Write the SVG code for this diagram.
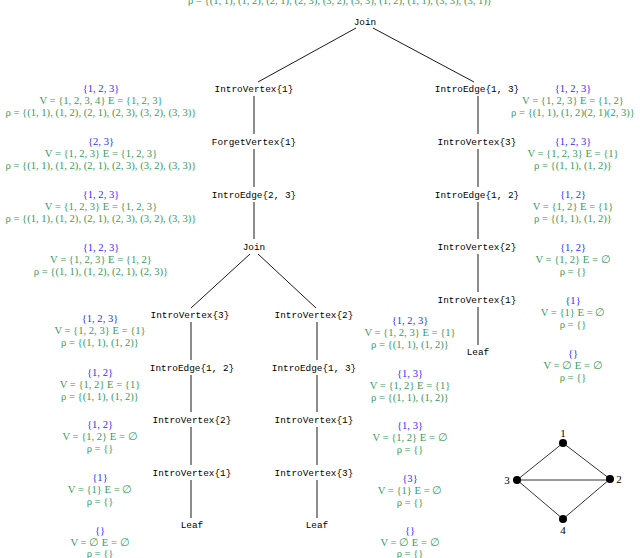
<svg xmlns="http://www.w3.org/2000/svg" width="640" height="558" viewBox="0 0 640 558">
<style>
.n{font-size:9.4px;fill:#000;text-anchor:middle}
.b{font-size:10.6px;fill:#3030ff;text-anchor:middle}
.g{font-size:10.6px;fill:#3a9a62;text-anchor:middle}
.k{font-size:11px;fill:#000;text-anchor:middle}
.e{stroke:#000;stroke-width:0.9;fill:none}
.ge{stroke:#000;stroke-width:0.8;fill:none}
</style>
<rect width="640" height="558" fill="#fff"/>
<g font-family="Liberation Serif, DejaVu Serif, serif">
<text class="g" x="340" y="4">ρ = {(1, 1), (1, 2), (2, 1), (2, 3), (3, 2), (3, 3), (1, 2), (1, 1), (3, 3), (3, 1)}</text>
</g>
<g id="connectors">
<path class="e" d="M356 28L258 82M373 28L474 82M254 96V134M254 149V187M254 202V239M250 254L191 308M258 254L316 308M191 322V360M191 375V412M191 427V465M191 480V518M317 322V360M317 375V412M317 427V465M317 480V518M478 96V134M478 149V187M478 202V239M478 254V292M478 307V345"/>
</g>
<g font-family="Liberation Mono, DejaVu Sans Mono, monospace">
<g id="n-join1"><text class="n" x="365" y="25">Join</text></g>
<g id="n-iv1"><text class="n" x="254" y="92">IntroVertex{1}</text></g>
<g id="n-fv1"><text class="n" x="254" y="145">ForgetVertex{1}</text></g>
<g id="n-ie23"><text class="n" x="254" y="198">IntroEdge{2, 3}</text></g>
<g id="n-join2"><text class="n" x="254" y="250">Join</text></g>
<g id="n-l-iv3"><text class="n" x="190" y="318">IntroVertex{3}</text></g>
<g id="n-l-ie12"><text class="n" x="192" y="371">IntroEdge{1, 2}</text></g>
<g id="n-l-iv2"><text class="n" x="192" y="423">IntroVertex{2}</text></g>
<g id="n-l-iv1"><text class="n" x="192" y="476">IntroVertex{1}</text></g>
<g id="n-l-leaf"><text class="n" x="192" y="528">Leaf</text></g>
<g id="n-m-iv2"><text class="n" x="314" y="318">IntroVertex{2}</text></g>
<g id="n-m-ie13"><text class="n" x="314" y="371">IntroEdge{1, 3}</text></g>
<g id="n-m-iv1"><text class="n" x="314" y="423">IntroVertex{1}</text></g>
<g id="n-m-iv3"><text class="n" x="314" y="476">IntroVertex{3}</text></g>
<g id="n-m-leaf"><text class="n" x="317" y="528">Leaf</text></g>
<g id="n-r-ie13"><text class="n" x="477" y="92">IntroEdge{1, 3}</text></g>
<g id="n-r-iv3"><text class="n" x="477" y="145">IntroVertex{3}</text></g>
<g id="n-r-ie12"><text class="n" x="477" y="198">IntroEdge{1, 2}</text></g>
<g id="n-r-iv2"><text class="n" x="477" y="250">IntroVertex{2}</text></g>
<g id="n-r-iv1"><text class="n" x="477" y="303">IntroVertex{1}</text></g>
<g id="n-r-leaf"><text class="n" x="478" y="355">Leaf</text></g>
</g>
<g id="annotations" font-family="Liberation Serif, DejaVu Serif, serif">
<text class="b" x="101" y="92">{1, 2, 3}</text>
<text class="g" x="101" y="104">V = {1, 2, 3, 4} E = {1, 2, 3}</text>
<text class="g" x="101" y="116">ρ = {(1, 1), (1, 2), (2, 1), (2, 3), (3, 2), (3, 3)}</text>
<text class="b" x="101" y="145">{2, 3}</text>
<text class="g" x="101" y="157">V = {1, 2, 3} E = {1, 2, 3}</text>
<text class="g" x="101" y="169">ρ = {(1, 1), (1, 2), (2, 1), (2, 3), (3, 2), (3, 3)}</text>
<text class="b" x="101" y="198">{1, 2, 3}</text>
<text class="g" x="101" y="210">V = {1, 2, 3} E = {1, 2, 3}</text>
<text class="g" x="101" y="222">ρ = {(1, 1), (1, 2), (2, 1), (2, 3), (3, 2), (3, 3)}</text>
<text class="b" x="101" y="251">{1, 2, 3}</text>
<text class="g" x="101" y="263">V = {1, 2, 3} E = {1, 2}</text>
<text class="g" x="101" y="275">ρ = {(1, 1), (1, 2), (2, 1), (2, 3)}</text>

<text class="b" x="100" y="322">{1, 2, 3}</text>
<text class="g" x="100" y="334">V = {1, 2, 3} E = {1}</text>
<text class="g" x="100" y="346">ρ = {(1, 1), (1, 2)}</text>
<text class="b" x="100" y="376">{1, 2}</text>
<text class="g" x="100" y="388">V = {1, 2} E = {1}</text>
<text class="g" x="100" y="400">ρ = {(1, 1), (1, 2)}</text>
<text class="b" x="100" y="428">{1, 2}</text>
<text class="g" x="100" y="440">V = {1, 2} E = ∅</text>
<text class="g" x="100" y="452">ρ = {}</text>
<text class="b" x="100" y="481">{1}</text>
<text class="g" x="100" y="493">V = {1} E = ∅</text>
<text class="g" x="100" y="505">ρ = {}</text>
<text class="b" x="100" y="534">{}</text>
<text class="g" x="100" y="546">V = ∅ E = ∅</text>
<text class="g" x="100" y="557">ρ = {}</text>

<text class="b" x="410" y="324">{1, 2, 3}</text>
<text class="g" x="410" y="336">V = {1, 2, 3} E = {1}</text>
<text class="g" x="410" y="348">ρ = {(1, 1), (1, 2)}</text>
<text class="b" x="410" y="377">{1, 3}</text>
<text class="g" x="410" y="389">V = {1, 2} E = {1}</text>
<text class="g" x="410" y="401">ρ = {(1, 1), (1, 2)}</text>
<text class="b" x="410" y="429">{1, 3}</text>
<text class="g" x="410" y="441">V = {1, 2} E = ∅</text>
<text class="g" x="410" y="453">ρ = {}</text>
<text class="b" x="410" y="482">{3}</text>
<text class="g" x="410" y="494">V = {1} E = ∅</text>
<text class="g" x="410" y="506">ρ = {}</text>
<text class="b" x="410" y="534">{}</text>
<text class="g" x="410" y="546">V = ∅ E = ∅</text>
<text class="g" x="410" y="557">ρ = {}</text>

<text class="b" x="573" y="92">{1, 2, 3}</text>
<text class="g" x="573" y="104">V = {1, 2, 3} E = {1, 2}</text>
<text class="g" x="573" y="116">ρ = {(1, 1), (1, 2)(2, 1)(2, 3)}</text>
<text class="b" x="573" y="145">{1, 2, 3}</text>
<text class="g" x="573" y="157">V = {1, 2, 3} E = {1}</text>
<text class="g" x="573" y="169">ρ = {(1, 1), (1, 2)}</text>
<text class="b" x="573" y="198">{1, 2}</text>
<text class="g" x="573" y="210">V = {1, 2} E = {1}</text>
<text class="g" x="573" y="222">ρ = {(1, 1), (1, 2)}</text>
<text class="b" x="573" y="251">{1, 2}</text>
<text class="g" x="573" y="263">V = {1, 2} E = ∅</text>
<text class="g" x="573" y="275">ρ = {}</text>
<text class="b" x="573" y="304">{1}</text>
<text class="g" x="573" y="316">V = {1} E = ∅</text>
<text class="g" x="573" y="328">ρ = {}</text>
<text class="b" x="573" y="357">{}</text>
<text class="g" x="573" y="369">V = ∅ E = ∅</text>
<text class="g" x="573" y="381">ρ = {}</text>
</g>
<g id="graph" font-family="Liberation Serif, DejaVu Serif, serif">
<path class="ge" d="M563 443L517 480L563 519L610 479ZM517 480H610"/>
<circle cx="563" cy="443" r="4"/>
<circle cx="517" cy="480" r="4"/>
<circle cx="610" cy="479" r="4"/>
<circle cx="563" cy="519" r="4"/>
<text class="k" x="563" y="437">1</text>
<text class="k" x="507" y="484">3</text>
<text class="k" x="619" y="483">2</text>
<text class="k" x="563" y="534">4</text>
</g>
</svg>
